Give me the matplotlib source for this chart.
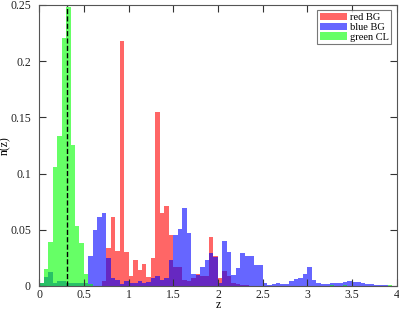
import numpy as np
import matplotlib.pyplot as plt

plt.rcParams['font.family'] = ['Liberation Serif', 'DejaVu Serif']

# histogram bins: 0 to 4 in steps of 0.05
bin_width = 0.05
bin_left = np.arange(0, 4, bin_width)

red_bg = [0, 0, 0, 0, 0, 0, 0, 0, 0, 0,
          0, 0, 0, 0, 0.004, 0.034, 0.061, 0.031, 0.218, 0.030,
          0.009, 0.023, 0.014, 0.020, 0.008, 0.025, 0.155, 0.065, 0.071, 0.045,
          0.017, 0.017, 0.005, 0.004, 0.007, 0.0105, 0.009, 0.009, 0.0435, 0.027,
          0.007, 0.0135, 0.0088, 0.003, 0.002, 0.001, 0.001, 0, 0, 0,
          0, 0, 0, 0, 0, 0, 0, 0, 0, 0,
          0, 0, 0, 0, 0, 0, 0, 0, 0, 0,
          0, 0, 0, 0, 0, 0, 0, 0, 0, 0]

blue_bg = [0.003, 0.008, 0.0125, 0.003, 0.004, 0.004, 0.003, 0.003, 0.003, 0.003,
           0.003, 0.027, 0.050, 0.061, 0.065, 0.025, 0.007, 0.005, 0.0015, 0.004,
           0.003, 0.003, 0.004, 0.003, 0.0035, 0.007, 0.009, 0.005, 0.007, 0.023,
           0.045, 0.051, 0.069, 0.047, 0.0106, 0.0097, 0.017, 0.0235, 0.029, 0.026,
           0.003, 0.0397, 0.030, 0.0097, 0.0156, 0.029, 0.0268, 0.0268, 0.019, 0.019,
           0.003, 0.001, 0.0015, 0.0025, 0.002, 0.002, 0.004, 0.006, 0.007, 0.0105,
           0.0165, 0.005, 0.003, 0.0015, 0.002, 0.0025, 0.0025, 0.0025, 0.0035, 0.0045,
           0.0035, 0.0035, 0.003, 0.002, 0.0015, 0.0012, 0.001, 0.0005, 0, 0]

green_cl = [0.003, 0.015, 0.039, 0.106, 0.133, 0.221, 0.248, 0.125, 0.053, 0.038,
            0.011, 0.002, 0, 0, 0, 0, 0, 0, 0, 0,
            0, 0, 0, 0, 0, 0, 0, 0, 0, 0,
            0, 0, 0, 0, 0, 0, 0, 0, 0, 0,
            0, 0, 0, 0, 0, 0, 0, 0, 0, 0,
            0, 0, 0, 0, 0, 0, 0, 0, 0, 0,
            0, 0, 0, 0, 0, 0.001, 0, 0, 0.001, 0,
            0, 0, 0, 0, 0, 0, 0, 0, 0.001, 0]

z_mean = 0.31

fig = plt.figure(figsize=(3.99, 3.11), dpi=100)
ax = fig.add_axes([0.0985, 0.0804, 0.8955, 0.9036])

ax.bar(bin_left, red_bg, width=bin_width, align='edge', color='red', alpha=0.6,
       linewidth=0, label='red BG')
ax.bar(bin_left, blue_bg, width=bin_width, align='edge', color='blue', alpha=0.6,
       linewidth=0, label='blue BG')
ax.bar(bin_left, green_cl, width=bin_width, align='edge', color='lime', alpha=0.6,
       linewidth=0, label='green CL')
ax.plot([z_mean, z_mean], [0, 0.25], 'k--', linewidth=1)

ax.set_xlim(0, 4)
ax.set_ylim(0, 0.25)
ax.set_xticks(np.arange(0, 4.01, 0.5))
ax.set_xticklabels(['0', '0.5', '1', '1.5', '2', '2.5', '3', '3.5', '4'])
ax.set_yticks([0, 0.05, 0.1, 0.15, 0.2, 0.25])
ax.set_yticklabels(['0', '0.05', '0.1', '0.15', '0.2', '0.25'])
ax.tick_params(direction='in', top=True, right=True, length=5, width=0.8,
               labelsize=8.5, color='#333333', labelcolor='#222222')
ax.tick_params(axis='y', pad=6)
ax.tick_params(axis='x', pad=2)
for s in ax.spines.values():
    s.set_color('#555555')
    s.set_linewidth(0.8)

ax.set_xlabel('z', fontsize=8.5, labelpad=-1)
ax.set_ylabel('n(z)', fontsize=8.5, labelpad=-1)

leg = ax.legend(loc='upper right', fontsize=7.5, frameon=True, fancybox=False,
                handlelength=2.6, handleheight=0.7, borderpad=0.25,
                labelspacing=0.05, handletextpad=0.3, borderaxespad=0.5)
leg.get_frame().set_edgecolor('#555555')
leg.get_frame().set_linewidth(0.8)

plt.savefig('out.png', dpi=100)
